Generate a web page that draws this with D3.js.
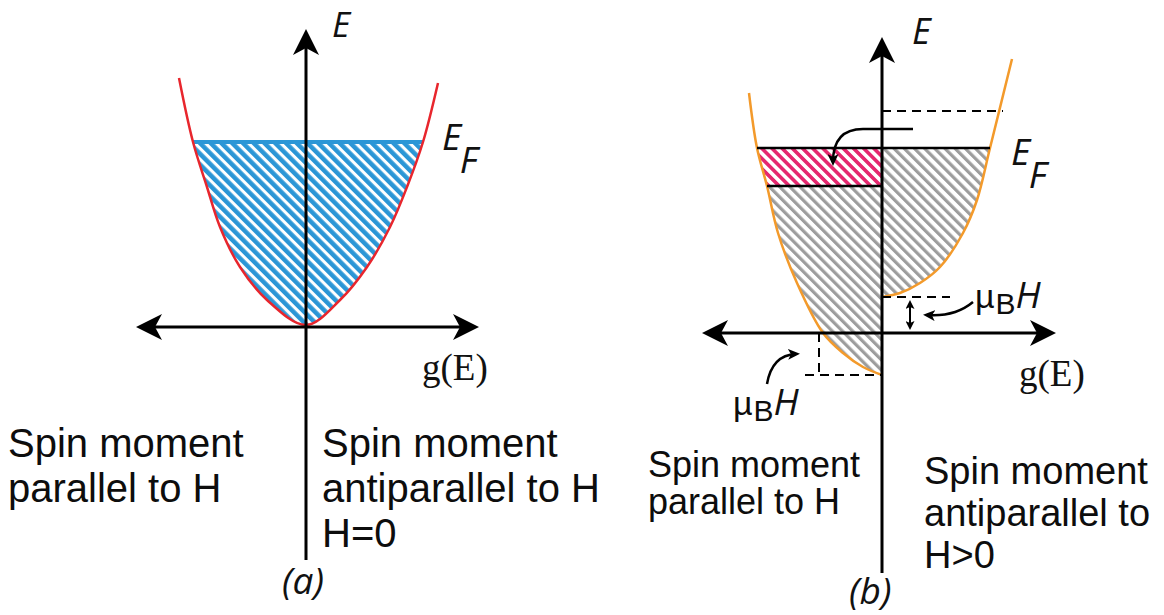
<!DOCTYPE html>
<html lang="en">
<head>
<meta charset="utf-8">
<title>Density of states, H=0 and H>0</title>
<script src="https://d3js.org/d3.v7.min.js"></script>
<style>
  body{margin:0;background:#fff;}
  .axis{stroke:#000;stroke-width:3;fill:none;}
  .level{stroke:#000;stroke-width:2.5;}
  .dash{stroke:#000;stroke-width:2;stroke-dasharray:9,6;fill:none;}
  .note{stroke:#000;stroke-width:2.5;fill:none;}
  .cap{font-family:"Liberation Sans",Arial,sans-serif;fill:#0d0d0d;}
  .ital{font-family:"Open Sans",sans-serif;font-style:italic;fill:#111;}
  .serif{font-family:"Liberation Serif",serif;fill:#111;}
</style>
</head>
<body>
<div id="container"></div>
<script>
var width = 1164, height = 615;

// panel (a): H = 0, same band for both spins (g, E in plot units)
var aCurveG = [-1.27, -1.13, -0.99, -0.86, -0.66, -0.39, 0, 0.34, 0.61, 0.84, 1.01, 1.17, 1.32];
var aCurveE = [2.49, 1.85, 1.40, 1.00, 0.60, 0.27, 0.02, 0.27, 0.60, 1.00, 1.40, 1.85, 2.44];
var aFermi = 1.85;
var aAxisG = [-1.65, 1.68];
var aAxisE = [-2.33, 2.93];

// panel (b): H > 0, parallel band lowered, antiparallel band raised by muB H
var bUpG = [-1.33, -1.25, -1.15, -1.04, -0.85, -0.59, -0.39, -0.19, 0];
var bUpE = [2.40, 1.85, 1.47, 1.00, 0.50, 0, -0.20, -0.34, -0.42];
var bDownG = [0, 0.18, 0.38, 0.58, 0.81, 0.95, 1.08, 1.30];
var bDownE = [0.36, 0.40, 0.50, 0.66, 1.00, 1.33, 1.85, 2.74];
var bFermi = 1.85;
var bMoved = 1.47;
var bOldTop = 2.22;
var bShiftUp = 0.36;
var bShiftDown = -0.42;
var bAxisG = [-1.75, 1.69];
var bAxisE = [-2.40, 2.91];

var leftCaption = ['Spin moment', 'parallel to H'];
var rightCaptionA = ['Spin moment', 'antiparallel to H', 'H=0'];
var rightCaptionB = ['Spin moment', 'antiparallel to', 'H>0'];
var panelNames = ['(a)', '(b)'];

var svg = d3.select('#container').append('svg')
            .attr('width', width).attr('height', height);
var defs = svg.append('defs');

function marker(id, w, h, notch, ref) {
    defs.append('marker').attr('id', id)
        .attr('viewBox', '0 0 ' + w + ' ' + h)
        .attr('markerUnits', 'userSpaceOnUse')
        .attr('markerWidth', w).attr('markerHeight', h)
        .attr('refX', ref).attr('refY', h / 2)
        .attr('orient', 'auto-start-reverse')
        .append('path')
        .attr('d', 'M0,0 L' + w + ',' + h / 2 + ' L0,' + h + ' L' + notch + ',' + h / 2 + ' Z')
        .attr('fill', '#000');
}
marker('head', 26, 26, 7, 21);
marker('tip', 12, 11, 3, 8);
marker('tipSm', 9, 9, 2, 6);

function hatch(id, color, w, step) {
    defs.append('pattern').attr('id', id)
        .attr('patternUnits', 'userSpaceOnUse')
        .attr('width', step).attr('height', step)
        .attr('patternTransform', 'rotate(-45)')
        .append('rect').attr('width', w).attr('height', step).attr('fill', color);
}
hatch('hBlue', '#2b96d6', 4.5, 7.6);
hatch('hGray', '#9d9d9d', 3.2, 7.2);
hatch('hPink', '#e5286f', 3.6, 7.2);

function curveLine(x, y) {
    return d3.line().x(d => x(d[0])).y(d => y(d[1])).curve(d3.curveCatmullRom.alpha(0.5));
}

function axes(g, x, y, gExt, eExt) {
    g.append('line').attr('class', 'axis')
     .attr('x1', x(gExt[0])).attr('x2', x(gExt[1]))
     .attr('y1', y(0)).attr('y2', y(0))
     .attr('marker-start', 'url(#head)').attr('marker-end', 'url(#head)');
    g.append('line').attr('class', 'axis')
     .attr('x1', x(0)).attr('x2', x(0))
     .attr('y1', y(eExt[0])).attr('y2', y(eExt[1]))
     .attr('marker-end', 'url(#head)');
}

function caption(lines, x0, y0, step, size) {
    var t = svg.append('text').attr('class', 'cap').attr('font-size', size);
    t.selectAll('tspan').data(lines).enter().append('tspan')
     .attr('x', x0).attr('y', (d, i) => y0 + i * step).text(d => d);
}

function subLabel(g, x0, y0, main, sub, size) {
    g.append('text').attr('class', 'ital').attr('font-size', size)
     .attr('x', x0).attr('y', y0).text(main);
    g.append('text').attr('class', 'ital').attr('font-size', size)
     .attr('x', x0 + size * 0.48).attr('y', y0 + 23).text(sub);
}

function muBH(g, x0, y0) {
    var t = g.append('text').attr('x', x0).attr('y', y0);
    t.append('tspan').attr('class', 'cap').attr('font-size', 34).text('\u00b5');
    t.append('tspan').attr('class', 'cap').attr('font-size', 30).attr('dx', 1).attr('dy', 6).text('B');
    t.append('tspan').attr('class', 'ital').attr('font-size', 37).attr('dy', -6).text('H');
}

// ---------- panel (a)
var xA = d3.scaleLinear().domain([0, 1]).range([306, 406]);
var yA = d3.scaleLinear().domain([0, 1]).range([327, 227]);
var gA = svg.append('g');
var aPts = d3.zip(aCurveG, aCurveE);
var lineA = curveLine(xA, yA);

defs.append('clipPath').attr('id', 'clipA').append('path').attr('d', lineA(aPts) + 'Z');
gA.append('rect').attr('clip-path', 'url(#clipA)')
  .attr('x', xA(-1.6)).attr('width', xA(1.6) - xA(-1.6))
  .attr('y', yA(aFermi)).attr('height', yA(-0.1) - yA(aFermi))
  .attr('fill', 'url(#hBlue)');
gA.append('line').attr('stroke', '#2b96d6').attr('stroke-width', 4)
  .attr('x1', xA(aCurveG[1])).attr('x2', xA(aCurveG[11]))
  .attr('y1', yA(aFermi)).attr('y2', yA(aFermi));
gA.append('path').attr('d', lineA(aPts)).attr('fill', 'none')
  .attr('stroke', '#e8262d').attr('stroke-width', 2.5);
axes(gA, xA, yA, aAxisG, aAxisE);

gA.append('text').attr('class', 'ital').attr('font-size', 35)
  .attr('x', xA(0) + 26).attr('y', 37).text('E');
subLabel(gA, 442, 150, 'E', 'F', 37);
gA.append('text').attr('class', 'serif').attr('font-size', 37)
  .attr('x', 422).attr('y', 380).text('g(E)');

// ---------- panel (b)
var xB = d3.scaleLinear().domain([0, 1]).range([882, 982]);
var yB = d3.scaleLinear().domain([0, 1]).range([333, 233]);
var gB = svg.append('g');
var lineB = curveLine(xB, yB);
var upPts = d3.zip(bUpG, bUpE);
var downPts = d3.zip(bDownG, bDownE);

defs.append('clipPath').attr('id', 'clipUp').append('path')
    .attr('d', lineB(upPts) + 'L' + xB(0) + ',' + yB(bUpE[0]) + 'Z');
defs.append('clipPath').attr('id', 'clipDown').append('path')
    .attr('d', lineB(downPts) + 'L' + xB(0) + ',' + yB(bDownE[bDownE.length - 1]) + 'Z');

function band(clip, g0, g1, e0, e1, fill) {
    gB.append('rect').attr('clip-path', 'url(#' + clip + ')')
      .attr('x', xB(g0)).attr('width', xB(g1) - xB(g0))
      .attr('y', yB(e1)).attr('height', yB(e0) - yB(e1))
      .attr('fill', fill);
}
band('clipUp', -1.6, 0, bShiftDown - 0.1, bMoved, 'url(#hGray)');
band('clipUp', -1.6, 0, bMoved, bFermi, 'url(#hPink)');
band('clipDown', 0, 1.6, bShiftUp - 0.1, bFermi, 'url(#hGray)');

gB.append('path').attr('d', lineB(upPts)).attr('fill', 'none')
  .attr('stroke', '#f39a2b').attr('stroke-width', 2.5);
gB.append('path').attr('d', lineB(downPts)).attr('fill', 'none')
  .attr('stroke', '#f39a2b').attr('stroke-width', 2.5);

// Fermi level and lower edge of the flipped electrons
gB.append('line').attr('class', 'level')
  .attr('x1', xB(bUpG[1])).attr('x2', xB(bDownG[6]))
  .attr('y1', yB(bFermi)).attr('y2', yB(bFermi));
gB.append('line').attr('class', 'level')
  .attr('x1', xB(bUpG[2])).attr('x2', xB(0))
  .attr('y1', yB(bMoved)).attr('y2', yB(bMoved));

// dashed guides
gB.append('line').attr('class', 'dash')
  .attr('x1', xB(0)).attr('x2', xB(1.21)).attr('y1', yB(bOldTop)).attr('y2', yB(bOldTop));
gB.append('line').attr('class', 'dash')
  .attr('x1', xB(0)).attr('x2', xB(0.68)).attr('y1', yB(bShiftUp)).attr('y2', yB(bShiftUp));
gB.append('line').attr('class', 'dash')
  .attr('x1', xB(-0.77)).attr('x2', xB(0)).attr('y1', yB(bShiftDown)).attr('y2', yB(bShiftDown));
gB.append('line').attr('class', 'dash')
  .attr('x1', xB(-0.63)).attr('x2', xB(-0.63)).attr('y1', yB(0)).attr('y2', yB(bShiftDown));

axes(gB, xB, yB, bAxisG, bAxisE);

// double arrow muB H
gB.append('line').attr('stroke', '#000').attr('stroke-width', 2)
  .attr('x1', xB(0.28)).attr('x2', xB(0.28))
  .attr('y1', yB(bShiftUp) + 6).attr('y2', yB(0) - 6)
  .attr('marker-start', 'url(#tipSm)').attr('marker-end', 'url(#tipSm)');

// curved pointers
gB.append('path').attr('class', 'note').attr('marker-end', 'url(#tip)')
  .attr('d', 'M' + xB(0.31) + ',' + yB(2.04) + ' H' + xB(-0.19) +
             ' Q' + xB(-0.49) + ',' + yB(2.04) + ' ' + xB(-0.49) + ',' + yB(1.71));
gB.append('path').attr('class', 'note').attr('marker-end', 'url(#tip)')
  .attr('d', 'M' + xB(0.91) + ',' + yB(0.31) + ' Q' + xB(0.73) + ',' + yB(0.16) +
             ' ' + xB(0.45) + ',' + yB(0.18));
gB.append('path').attr('class', 'note').attr('marker-end', 'url(#tip)')
  .attr('d', 'M' + xB(-1.15) + ',' + yB(-0.51) + ' Q' + xB(-1.10) + ',' + yB(-0.22) +
             ' ' + xB(-0.86) + ',' + yB(-0.21));

gB.append('text').attr('class', 'ital').attr('font-size', 36)
  .attr('x', xB(0) + 30).attr('y', 44).text('E');
subLabel(gB, 1011, 165, 'E', 'F', 37);
gB.append('text').attr('class', 'serif').attr('font-size', 37)
  .attr('x', 1019).attr('y', 386).text('g(E)');
muBH(gB, 975, 308);
muBH(gB, 733, 415);

// ---------- captions
caption(leftCaption, 8, 457, 45, 40);
caption(rightCaptionA, 322, 457, 45, 40);
caption(leftCaption, 648, 477, 37, 36);
caption(rightCaptionB, 924, 484, 42, 38);

svg.selectAll('.pname').data(panelNames).enter().append('text')
   .attr('class', 'ital pname').attr('font-size', 37)
   .attr('x', (d, i) => i === 0 ? xA(0) - 24 : xB(0) - 33)
   .attr('y', (d, i) => i === 0 ? 594 : 604)
   .text(d => d);
</script>
</body>
</html>
